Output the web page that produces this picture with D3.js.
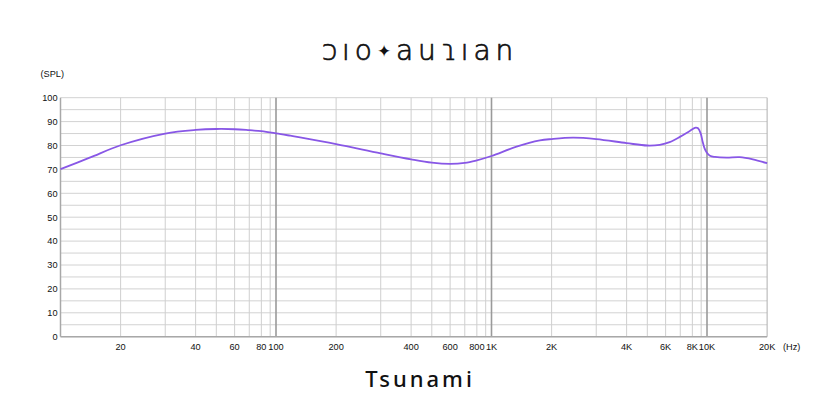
<!DOCTYPE html>
<html>
<head>
<meta charset="utf-8">
<script src="https://cdn.jsdelivr.net/npm/d3@7/dist/d3.min.js"></script>
<style>
  html, body { margin: 0; padding: 0; background: #fff; }
  svg { display: block; }
</style>
</head>
<body>
<svg id="chart" width="840" height="420"></svg>
<script>
// ---------- data ----------
const freqHz = [10, 14, 20, 30, 40, 50, 60, 70, 80, 100, 118, 132, 200, 300, 400, 500, 600, 700, 800, 1000,
  1335, 1747, 2000, 2430, 3000, 4000, 5000, 5660, 6260, 7000, 7780, 8370, 8630, 8940, 9240, 9570, 9950,
  10350, 10960, 12520, 14580, 16970, 20000];
const splDb = [70.1, 74.9, 80.1, 85.0, 86.5, 86.9, 86.8, 86.4, 86.0, 85.1, 84.1, 83.4, 80.6, 76.7, 74.2, 72.8, 72.3, 72.7, 73.8, 75.6,
  79.5, 82.1, 82.7, 83.3, 82.7, 81.0, 80.0, 80.3, 81.4, 83.7, 86.1, 87.5, 87.2, 85.1, 81.6, 78.8, 77.1,
  75.7, 75.2, 74.9, 75.1, 74.2, 72.6];

const gridFreqs = [10, 20, 30, 40, 50, 60, 70, 80, 90, 100, 200, 300, 400, 500, 600, 700, 800, 900,
  1000, 2000, 3000, 4000, 5000, 6000, 7000, 8000, 9000, 10000, 20000];
const xTickValues = [20, 40, 60, 80, 100, 200, 400, 600, 800, 1000, 2000, 4000, 6000, 8000, 10000, 20000];
const xTickLabels = ["20", "40", "60", "80", "100", "200", "400", "600", "800", "1K", "2K", "4K", "6K", "8K", "10K", "20K"];
const yTickValues = [0, 10, 20, 30, 40, 50, 60, 70, 80, 90, 100];
const yGridValues = d3.range(0, 101, 5);
const decadeFreqs = [100, 1000, 10000];

const logoLeft = "ↄıo";
const logoStar = "✦";
const logoRight = "auɿıan";
const titleText = "Tsunami";

// ---------- layout ----------
const x0 = 60.5, decadeW = 215.5;
const digitFrac = [0, 0, 0.279, 0.486, 0.627, 0.723, 0.808, 0.876, 0.932, 0.973];
const yTop = 97.7, yBottom = 336.7;

const xRange = gridFreqs.map(f => {
  const dec = Math.floor(Math.log10(f) + 1e-9);
  const digit = Math.round(f / Math.pow(10, dec));
  return x0 + (dec - 1) * decadeW + digitFrac[digit] * decadeW;
});

const x = d3.scaleLog().domain(gridFreqs).range(xRange);
const y = d3.scaleLinear().domain([0, 100]).range([yBottom, yTop]);

const svg = d3.select("#chart");
const xMin = x(10), xMax = x(20000);

// horizontal grid
svg.append("g").selectAll("line").data(yGridValues).join("line")
  .attr("x1", xMin).attr("x2", xMax)
  .attr("y1", d => y(d)).attr("y2", d => y(d))
  .attr("stroke", "#d2d2d2").attr("stroke-width", 1);

// vertical grid
svg.append("g").selectAll("line").data(gridFreqs.filter(f => f !== 10)).join("line")
  .attr("x1", d => x(d)).attr("x2", d => x(d))
  .attr("y1", y(100)).attr("y2", y(0))
  .attr("stroke", d => decadeFreqs.includes(d) ? "#9a9a9a" : (d === 20000 ? "#b0b0b0" : "#cfcfcf"))
  .attr("stroke-width", d => decadeFreqs.includes(d) ? 1.6 : 1);

// axes lines
svg.append("line").attr("x1", xMin).attr("x2", xMin).attr("y1", y(100)).attr("y2", y(0))
  .attr("stroke", "#a8a8a8").attr("stroke-width", 1.5);
svg.append("line").attr("x1", xMin).attr("x2", xMax).attr("y1", y(0)).attr("y2", y(0))
  .attr("stroke", "#a8a8a8").attr("stroke-width", 1.5);

// y labels
const labelFont = "'Liberation Sans', Arial, sans-serif";
svg.append("g").selectAll("text").data(yTickValues).join("text")
  .attr("x", 57.5).attr("y", d => y(d) + 3.3)
  .attr("text-anchor", "end")
  .attr("font-family", labelFont).attr("font-size", 9.2).attr("fill", "#111")
  .text(d => d);

svg.append("text").attr("x", 40.5).attr("y", 77)
  .attr("font-family", labelFont).attr("font-size", 9.2).attr("fill", "#111")
  .text("(SPL)");

// x labels
svg.append("g").selectAll("text").data(xTickValues).join("text")
  .attr("x", d => x(d)).attr("y", 349.5)
  .attr("text-anchor", "middle")
  .attr("font-family", labelFont).attr("font-size", 9.2).attr("fill", "#111")
  .text((d, i) => xTickLabels[i]);

svg.append("text").attr("x", 783).attr("y", 349.5)
  .attr("font-family", labelFont).attr("font-size", 9.2).attr("fill", "#111")
  .text("(Hz)");

// curve
const pts = freqHz.map((f, i) => [x(f), y(splDb[i])]);
svg.append("path")
  .attr("d", d3.line().curve(d3.curveCatmullRom.alpha(0.5))(pts))
  .attr("fill", "none")
  .attr("stroke", "#8857e6")
  .attr("stroke-width", 1.8)
  .attr("stroke-linejoin", "round");

// logo
const logo = svg.append("text").attr("x", 420).attr("y", 60)
  .attr("text-anchor", "middle")
  .attr("font-family", "'DejaVu Sans', sans-serif").attr("font-weight", 300)
  .attr("font-size", 28).attr("letter-spacing", 5).attr("fill", "#111")
  .attr("stroke", "#111").attr("stroke-width", 0.7);
logo.append("tspan").text(logoLeft);
logo.append("tspan").attr("font-size", 17).attr("dy", -3).attr("stroke-width", 0).text(logoStar);
logo.append("tspan").attr("dy", 3).text(logoRight);

// title
svg.append("text").attr("x", 420).attr("y", 387)
  .attr("text-anchor", "middle")
  .attr("font-family", "'Noto Sans', 'Open Sans', sans-serif").attr("font-weight", 500)
  .attr("font-size", 22).attr("letter-spacing", 3).attr("fill", "#111")
  .text(titleText);
</script>
</body>
</html>
